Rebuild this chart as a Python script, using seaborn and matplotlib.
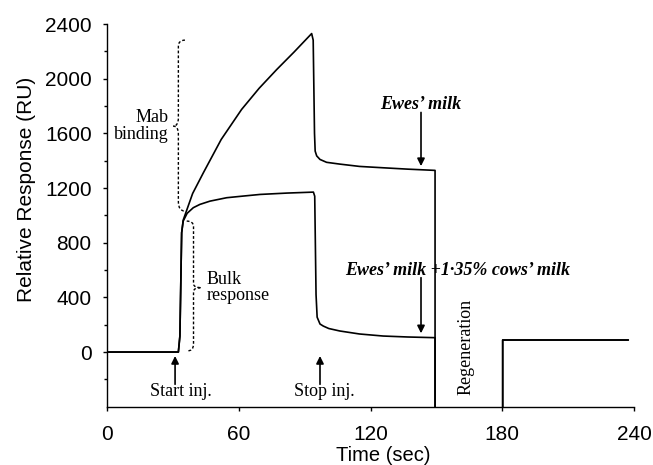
import matplotlib
matplotlib.use("Agg")
import matplotlib.pyplot as plt
from matplotlib.path import Path
from matplotlib.patches import PathPatch
from matplotlib.ticker import FixedLocator
import numpy as np
import pandas as pd
import seaborn as sns

# ---------------- data ----------------
# values below the axis floor (-400) are off-scale during regeneration
t_ewes = [0, 32.5, 33.2, 34.0, 34.7, 39.0, 43.9, 52.0, 61.3, 69.3, 77.3, 85.2,
          93.2, 93.9, 94.5, 94.8, 95.5, 97.0, 100.0, 106.0, 115.0, 125.8, 137.0,
          149.4, 149.4, 180.2, 180.2, 237.4]
ru_ewes = [0, 0, 117, 873, 965, 1160, 1312, 1555, 1775, 1930, 2067, 2195,
           2330, 2282, 1600, 1470, 1435, 1409, 1388, 1375, 1358, 1348, 1338,
           1329, -500, -500, 88, 88]

t_mix = [0, 32.5, 33.2, 34.0, 34.7, 36.5, 39.3, 42.3, 46.9, 54.5, 62.0, 69.7,
         82.0, 94.0, 94.6, 95.2, 95.7, 97.0, 98.5, 101.0, 106.0, 115.0, 125.8,
         137.0, 149.4, 149.4, 180.2, 180.2, 237.4]
ru_mix = [0, 0, 117, 873, 958, 1015, 1056, 1080, 1104, 1129, 1141, 1153,
          1163, 1170, 1140, 420, 255, 205, 190, 172, 154, 132, 117,
          110, 105, -500, -500, 88, 88]

x_ticks = [0, 60, 120, 180, 240]
y_ticks = [0, 400, 800, 1200, 1600, 2000, 2400]

df = pd.concat([
    pd.DataFrame({"Time": t_ewes, "RU": ru_ewes, "sample": "Ewes' milk"}),
    pd.DataFrame({"Time": t_mix, "RU": ru_mix, "sample": "Ewes' milk +1·35% cows' milk"}),
], ignore_index=True)

# ---------------- style ----------------
sns.set_theme(style="ticks")
plt.rcParams["font.family"] = ["Liberation Sans", "DejaVu Sans"]
SERIF = ["Liberation Serif", "DejaVu Serif"]

fig = plt.figure(figsize=(6.53, 4.65), dpi=100)
ax = fig.add_axes([107 / 653, 1 - 406.7 / 465, 527 / 653, 382.7 / 465])

sns.lineplot(data=df, x="Time", y="RU", units="sample", estimator=None,
             sort=False, color="black", linewidth=1.2, ax=ax, legend=False)

ax.set_xlim(0, 240)
ax.set_ylim(-400, 2400)
ax.xaxis.set_major_locator(FixedLocator(x_ticks))
ax.yaxis.set_major_locator(FixedLocator(y_ticks))
ax.yaxis.set_minor_locator(FixedLocator([-200, 200, 600, 1000, 1400, 1800, 2200]))
ax.set_xticklabels([str(v) for v in x_ticks])
ax.set_yticklabels([str(v) for v in y_ticks])

for s in ["top", "right"]:
    ax.spines[s].set_visible(False)
for s in ["left", "bottom"]:
    ax.spines[s].set_linewidth(1.0)
    ax.spines[s].set_color("black")

ax.tick_params(axis="y", which="major", direction="out", length=3, width=1,
               labelsize=15, pad=8, colors="black")
ax.tick_params(axis="y", which="minor", direction="out", length=2, width=1,
               colors="black")
ax.tick_params(axis="x", which="major", direction="out", length=3, width=1,
               labelsize=15, pad=10, colors="black")

ax.set_xlabel("Time (sec)", fontsize=14.5, color="black")
ax.set_ylabel("Relative Response (RU)", fontsize=15, color="black")
ax.xaxis.set_label_coords(0.524, -0.103)
ax.yaxis.set_label_coords(-0.135, 0.5675)

# ---------------- annotations ----------------
def brace(ax, xb, xe, xt, ytop, ybot, ymid, re_top, re_bot, rm):
    verts = [(xe, ytop), (xb, ytop), (xb, ytop - re_top),
             (xb, ymid + rm), (xb, ymid), (xt, ymid),
             (xb, ymid), (xb, ymid - rm),
             (xb, ybot + re_bot), (xb, ybot), (xe, ybot)]
    codes = [Path.MOVETO, Path.CURVE3, Path.CURVE3,
             Path.LINETO, Path.CURVE3, Path.CURVE3,
             Path.CURVE3, Path.CURVE3,
             Path.LINETO, Path.CURVE3, Path.CURVE3]
    p = PathPatch(Path(verts, codes), facecolor="none", edgecolor="black",
                  linewidth=1.0, linestyle=(0, (2, 1.5)), clip_on=False)
    ax.add_patch(p)

brace(ax, xb=32.5, xe=35.5, xt=30.2, ytop=2282, ybot=1031, ymid=1653,
      re_top=45, re_bot=70, rm=60)
brace(ax, xb=39.4, xe=36.3, xt=43.0, ytop=958, ybot=7, ymid=471,
      re_top=40, re_bot=50, rm=28)

ax.text(28.0, 1655, "Mab\nbinding", family=SERIF, fontsize=13, ha="right",
        va="center", multialignment="right", linespacing=0.95, color="black")
ax.text(45.4, 473, "Bulk\nresponse", family=SERIF, fontsize=13, ha="left",
        va="center", multialignment="left", linespacing=0.95, color="black")

arrow = dict(arrowstyle="-|>", color="black", lw=1.2, mutation_scale=11,
             shrinkA=0, shrinkB=0)
ax.annotate("", xy=(31.0, -29), xytext=(31.0, -236), arrowprops=arrow)
ax.text(33.7, -292, "Start inj.", family=SERIF, fontsize=13, ha="center",
        va="center", color="black")
ax.annotate("", xy=(97.0, -29), xytext=(97.0, -236), arrowprops=arrow)
ax.text(98.8, -292, "Stop inj.", family=SERIF, fontsize=13, ha="center",
        va="center", color="black")

ax.text(143.0, 1811, "Ewes’ milk", family=SERIF, fontsize=13, weight="bold",
        style="italic", ha="center", va="center", color="black")
ax.annotate("", xy=(143.0, 1360), xytext=(143.0, 1753), arrowprops=arrow)

ax.text(159.6, 600, "Ewes’ milk +1·35% cows’ milk", family=SERIF, fontsize=13,
        weight="bold", style="italic", ha="center", va="center", color="black")
ax.annotate("", xy=(143.0, 137), xytext=(143.0, 544), arrowprops=arrow)

ax.text(163.3, 34, "Regeneration", family=SERIF, fontsize=13, rotation=90,
        ha="center", va="center", color="black")

fig.savefig("out.png", dpi=100)
